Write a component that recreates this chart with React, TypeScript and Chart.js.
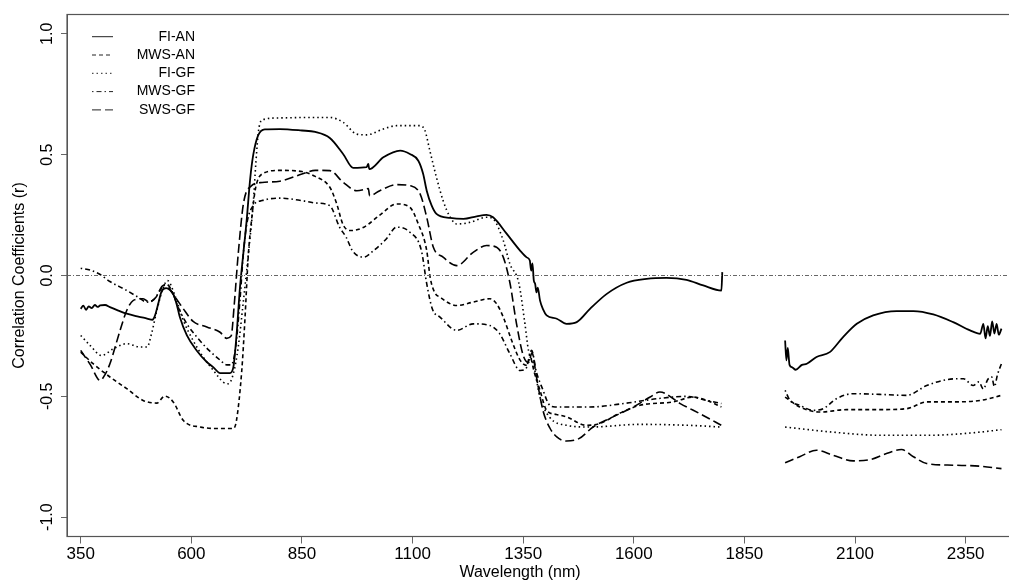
import React, { useEffect, useRef } from "react";
import { Chart, registerables } from "chart.js";

Chart.register(...registerables);

// ---------- data ----------
const SERIES_LABELS = ["FI-AN", "MWS-AN", "FI-GF", "MWS-GF", "SWS-GF"];

const FI_AN_NM = [350, 356, 362, 368, 375, 382, 388, 394, 405, 416, 435, 454, 480, 500, 512, 518, 524, 533, 543, 552, 560, 567, 574, 590, 612, 635, 650, 665, 687, 695, 702, 710, 718, 725, 733, 740, 751, 766, 800, 850, 880, 913, 943, 966, 996, 1000, 1002, 1034, 1072, 1094, 1113, 1124, 1132, 1143, 1154, 1185, 1215, 1245, 1267, 1282, 1313, 1343, 1358, 1365, 1368, 1371, 1374, 1377, 1380, 1383, 1388, 1395, 1403, 1426, 1448, 1471, 1501, 1539, 1584, 1629, 1674, 1719, 1757, 1798, 1800, 1870, 1942, 1945, 1948, 1952, 1958, 1966, 1980, 1991, 2013, 2043, 2073, 2104, 2141, 2194, 2232, 2277, 2322, 2360, 2383, 2390, 2395, 2400, 2405, 2410, 2415, 2420, 2425, 2431];
const FI_AN_R = [-0.138, -0.125, -0.142, -0.128, -0.135, -0.122, -0.13, -0.124, -0.122, -0.131, -0.145, -0.158, -0.17, -0.178, -0.183, -0.165, -0.125, -0.065, -0.052, -0.06, -0.08, -0.12, -0.172, -0.248, -0.31, -0.358, -0.38, -0.404, -0.404, -0.379, -0.25, -0.048, 0.1, 0.227, 0.4, 0.5, 0.58, 0.605, 0.606, 0.6, 0.594, 0.569, 0.503, 0.445, 0.448, 0.462, 0.44, 0.489, 0.517, 0.503, 0.475, 0.42, 0.351, 0.29, 0.255, 0.238, 0.234, 0.245, 0.251, 0.241, 0.172, 0.103, 0.075, 0.062, 0.02, 0.05, -0.02, -0.034, -0.07, -0.05, -0.103, -0.14, -0.165, -0.179, -0.2, -0.193, -0.138, -0.076, -0.03, -0.014, -0.01, -0.018, -0.041, -0.062, 0.014, null, -0.269, -0.351, -0.3, -0.37, -0.38, -0.39, -0.37, -0.365, -0.337, -0.317, -0.255, -0.2, -0.165, -0.147, -0.147, -0.161, -0.193, -0.227, -0.241, -0.2, -0.26, -0.21, -0.25, -0.19, -0.24, -0.2, -0.245, -0.22];

const MWS_AN_NM = [350, 378, 416, 454, 491, 522, 540, 559, 582, 620, 665, 695, 702, 714, 721, 729, 736, 745, 760, 800, 850, 880, 913, 928, 943, 960, 990, 1026, 1064, 1094, 1113, 1132, 1140, 1150, 1162, 1200, 1237, 1275, 1290, 1305, 1324, 1343, 1358, 1366, 1375, 1388, 1403, 1425, 1448, 1493, 1522, 1567, 1614, 1689, 1734, 1765, 1798, 1870, 1942, 1975, 2021, 2081, 2156, 2217, 2262, 2322, 2383, 2431];
const MWS_AN_R = [-0.317, -0.365, -0.42, -0.468, -0.517, -0.528, -0.499, -0.523, -0.6, -0.627, -0.633, -0.633, -0.6, -0.393, -0.186, 0.09, 0.227, 0.36, 0.42, 0.435, 0.43, 0.41, 0.365, 0.3, 0.21, 0.186, 0.2, 0.25, 0.296, 0.282, 0.213, 0.103, -0.01, -0.07, -0.09, -0.124, -0.11, -0.096, -0.117, -0.172, -0.269, -0.35, -0.372, -0.34, -0.4, -0.475, -0.558, -0.575, -0.585, -0.62, -0.613, -0.571, -0.537, -0.523, -0.503, -0.517, -0.544, null, -0.503, -0.544, -0.565, -0.555, -0.555, -0.551, -0.523, -0.523, -0.517, -0.496];

const FI_GF_NM = [350, 371, 397, 424, 454, 484, 500, 510, 522, 537, 546, 563, 582, 604, 627, 650, 672, 684, 695, 706, 717, 729, 740, 746, 752, 762, 800, 868, 913, 943, 974, 996, 1034, 1064, 1117, 1128, 1139, 1154, 1169, 1185, 1200, 1230, 1267, 1282, 1305, 1320, 1340, 1354, 1362, 1373, 1388, 1409, 1448, 1501, 1614, 1725, 1798, 1870, 1942, 2043, 2156, 2269, 2360, 2431];
const FI_GF_R = [-0.248, -0.289, -0.331, -0.303, -0.282, -0.296, -0.296, -0.241, -0.145, -0.048, -0.021, -0.083, -0.186, -0.269, -0.338, -0.393, -0.441, -0.448, -0.406, -0.296, -0.117, 0.09, 0.3, 0.47, 0.6, 0.645, 0.652, 0.654, 0.654, 0.634, 0.585, 0.582, 0.606, 0.62, 0.62, 0.6, 0.517, 0.406, 0.31, 0.241, 0.213, 0.22, 0.241, 0.234, 0.145, 0.048, -0.03, -0.2, -0.31, -0.365, -0.503, -0.585, -0.62, -0.627, -0.616, -0.62, -0.627, null, -0.627, -0.647, -0.661, -0.661, -0.652, -0.638];

const MWS_GF_NM = [350, 372, 393, 416, 454, 480, 499, 515, 530, 543, 555, 570, 590, 615, 640, 665, 680, 690, 700, 710, 718, 726, 740, 760, 800, 850, 880, 913, 935, 950, 965, 990, 1010, 1040, 1064, 1094, 1120, 1132, 1145, 1162, 1200, 1237, 1275, 1297, 1320, 1343, 1356, 1369, 1380, 1395, 1407, 1422, 1501, 1584, 1652, 1719, 1765, 1798, 1870, 1942, 1953, 1975, 2006, 2028, 2058, 2096, 2156, 2217, 2262, 2307, 2345, 2367, 2380, 2390, 2400, 2409, 2415, 2422, 2431];
const MWS_GF_R = [0.03, 0.022, 0.005, -0.025, -0.062, -0.09, -0.11, -0.1, -0.06, -0.035, -0.06, -0.13, -0.2, -0.26, -0.31, -0.35, -0.37, -0.37, -0.3, -0.1, 0.1, 0.22, 0.29, 0.31, 0.32, 0.31, 0.3, 0.289, 0.2, 0.158, 0.1, 0.076, 0.1, 0.15, 0.2, 0.179, 0.103, -0.034, -0.14, -0.172, -0.227, -0.2, -0.207, -0.241, -0.324, -0.393, -0.386, -0.31, -0.4, -0.475, -0.53, -0.544, -0.544, -0.528, -0.51, -0.5, -0.517, -0.53, null, -0.475, -0.517, -0.537, -0.558, -0.551, -0.51, -0.489, -0.492, -0.496, -0.455, -0.431, -0.427, -0.455, -0.44, -0.47, -0.43, -0.42, -0.46, -0.41, -0.365];

const SWS_GF_NM = [350, 372, 394, 405, 416, 439, 454, 469, 491, 505, 520, 537, 548, 560, 582, 604, 635, 665, 680, 690, 697, 706, 718, 735, 760, 800, 850, 880, 913, 943, 974, 996, 1000, 1003, 1026, 1064, 1094, 1117, 1132, 1147, 1169, 1200, 1237, 1267, 1290, 1305, 1320, 1335, 1350, 1362, 1370, 1380, 1395, 1410, 1426, 1448, 1476, 1508, 1553, 1599, 1637, 1659, 1705, 1757, 1798, 1870, 1942, 1975, 2013, 2051, 2096, 2134, 2171, 2205, 2232, 2262, 2322, 2383, 2431];
const SWS_GF_R = [-0.31, -0.37, -0.434, -0.41, -0.365, -0.227, -0.145, -0.103, -0.096, -0.11, -0.09, -0.041, -0.05, -0.08, -0.138, -0.19, -0.213, -0.235, -0.26, -0.25, -0.12, 0.09, 0.3, 0.37, 0.385, 0.39, 0.42, 0.435, 0.434, 0.386, 0.351, 0.358, 0.36, 0.33, 0.351, 0.376, 0.372, 0.338, 0.241, 0.117, 0.076, 0.041, 0.096, 0.124, 0.117, 0.076, -0.03, -0.2, -0.33, -0.36, -0.32, -0.42, -0.56, -0.63, -0.668, -0.685, -0.675, -0.627, -0.585, -0.544, -0.503, -0.482, -0.53, -0.579, -0.62, null, -0.775, -0.75, -0.723, -0.744, -0.767, -0.762, -0.737, -0.72, -0.75, -0.778, -0.785, -0.789, -0.799];

const ZERO_NM = [319, 2500];
const ZERO_R = [0, 0];

const X_TICKS = [350, 600, 850, 1100, 1350, 1600, 1850, 2100, 2350];
const Y_TICKS = [-1, -0.5, 0, 0.5, 1];
const Y_TICK_LABELS = ["-1.0", "-0.5", "0.0", "0.5", "1.0"];

const X_TITLE = "Wavelength (nm)";
const Y_TITLE = "Correlation Coefficients (r)";

// ---------- styling ----------
const FONT = "'Liberation Sans', Arial, sans-serif";
const DASHES = [[], [4, 3], [1.5, 3], [1.5, 3, 5, 3], [9, 4]];

function pts(nm: number[], r: (number | null)[]) {
  return nm.map((x, i) => ({ x, y: r[i] }));
}

const boxPlugin = {
  id: "box",
  afterDatasetsDraw(chart: any) {
    const { ctx, chartArea: a } = chart;
    ctx.save();
    ctx.strokeStyle = "#555";
    ctx.lineWidth = 1.2;
    ctx.strokeRect(a.left, a.top, a.right - a.left, a.bottom - a.top);
    ctx.restore();
  },
};

const yLabelPlugin = {
  id: "yLabels",
  afterDraw(chart: any) {
    const { ctx } = chart;
    const ys = chart.scales.y;
    ctx.save();
    ctx.fillStyle = "#000";
    ctx.font = `16px ${FONT}`;
    ctx.textAlign = "center";
    ctx.textBaseline = "middle";
    Y_TICKS.forEach((v, i) => {
      const py = ys.getPixelForValue(v);
      ctx.save();
      ctx.translate(47.5, py);
      ctx.rotate(-Math.PI / 2);
      ctx.fillText(Y_TICK_LABELS[i], 0, 0);
      ctx.restore();
    });
    ctx.restore();
  },
};

const xTitlePlugin = {
  id: "xTitle",
  afterDraw(chart: any) {
    const { ctx } = chart;
    ctx.save();
    ctx.fillStyle = "#000";
    ctx.font = `16px ${FONT}`;
    ctx.textAlign = "center";
    ctx.textBaseline = "middle";
    ctx.fillText(X_TITLE, 520, 573);
    ctx.restore();
  },
};

const legendPlugin = {
  id: "rLegend",
  afterDraw(chart: any) {
    const { ctx } = chart;
    ctx.save();
    ctx.font = `14px ${FONT}`;
    ctx.textAlign = "right";
    ctx.textBaseline = "middle";
    SERIES_LABELS.forEach((lab, i) => {
      const y = 36.7 + i * 18.3;
      ctx.strokeStyle = "#222";
      ctx.lineWidth = 1;
      ctx.setLineDash(DASHES[i]);
      ctx.beginPath();
      ctx.moveTo(92, y);
      ctx.lineTo(113, y);
      ctx.stroke();
      ctx.setLineDash([]);
      ctx.fillStyle = "#000";
      ctx.fillText(lab, 195, y);
    });
    ctx.restore();
  },
};

export default function App() {
  const ref = useRef<HTMLCanvasElement | null>(null);

  useEffect(() => {
    if (!ref.current) return;
    const series = [
      pts(FI_AN_NM, FI_AN_R),
      pts(MWS_AN_NM, MWS_AN_R),
      pts(FI_GF_NM, FI_GF_R),
      pts(MWS_GF_NM, MWS_GF_R),
      pts(SWS_GF_NM, SWS_GF_R),
    ];
    const datasets: any[] = [
      {
        label: "zero",
        data: pts(ZERO_NM, ZERO_R),
        borderColor: "#666",
        borderWidth: 1,
        borderDash: [4, 2, 1, 2],
        pointRadius: 0,
        fill: false,
      },
      ...series.map((d, i) => ({
        label: SERIES_LABELS[i],
        data: d,
        borderColor: "#000",
        borderWidth: i === 0 ? 1.8 : 1.6,
        borderDash: DASHES[i],
        pointRadius: 0,
        fill: false,
        spanGaps: false,
        cubicInterpolationMode: "monotone",
      })),
    ];

    const chart = new Chart(ref.current, {
      type: "line",
      data: { datasets },
      options: {
        animation: false,
        responsive: false,
        devicePixelRatio: 1,
        layout: { padding: { left: 0, top: 14.5, right: 8, bottom: 0 } },
        plugins: { legend: { display: false }, tooltip: { enabled: false } },
        scales: {
          x: {
            type: "linear",
            min: 319,
            max: 2500,
            afterBuildTicks: (s: any) => {
              s.ticks = X_TICKS.map((v) => ({ value: v }));
            },
            afterFit: (s: any) => {
              s.height = 46.5;
            },
            ticks: {
              autoSkip: false,
              maxRotation: 0,
              minRotation: 0,
              padding: 1,
              color: "#000",
              font: { family: FONT, size: 17 },
              callback: (v: any) => String(v),
            },
            grid: {
              display: true,
              drawOnChartArea: false,
              drawTicks: true,
              tickLength: 7,
              color: "#666",
            },
            border: { display: true, color: "#555" },
          },
          y: {
            type: "linear",
            min: -1.08,
            max: 1.08,
            afterBuildTicks: (s: any) => {
              s.ticks = Y_TICKS.map((v) => ({ value: v }));
            },
            afterFit: (s: any) => {
              s.width = 67;
            },
            ticks: { display: false },
            grid: {
              display: true,
              drawOnChartArea: false,
              drawTicks: true,
              tickLength: 6,
              color: "#666",
            },
            border: { display: true, color: "#555" },
            title: {
              display: true,
              text: Y_TITLE,
              color: "#000",
              font: { family: FONT, size: 16 },
              padding: { top: 10, bottom: 0 },
            },
          },
        },
      },
      plugins: [boxPlugin, yLabelPlugin, xTitlePlugin, legendPlugin],
    } as any);

    return () => chart.destroy();
  }, []);

  return (
    <div
      style={{
        position: "fixed",
        left: 0,
        top: 0,
        width: 1009,
        height: 583,
        overflow: "hidden",
        background: "#fff",
      }}
    >
      <canvas ref={ref} width={1040} height={583} style={{ display: "block", width: 1040, height: 583 }} />
    </div>
  );
}
